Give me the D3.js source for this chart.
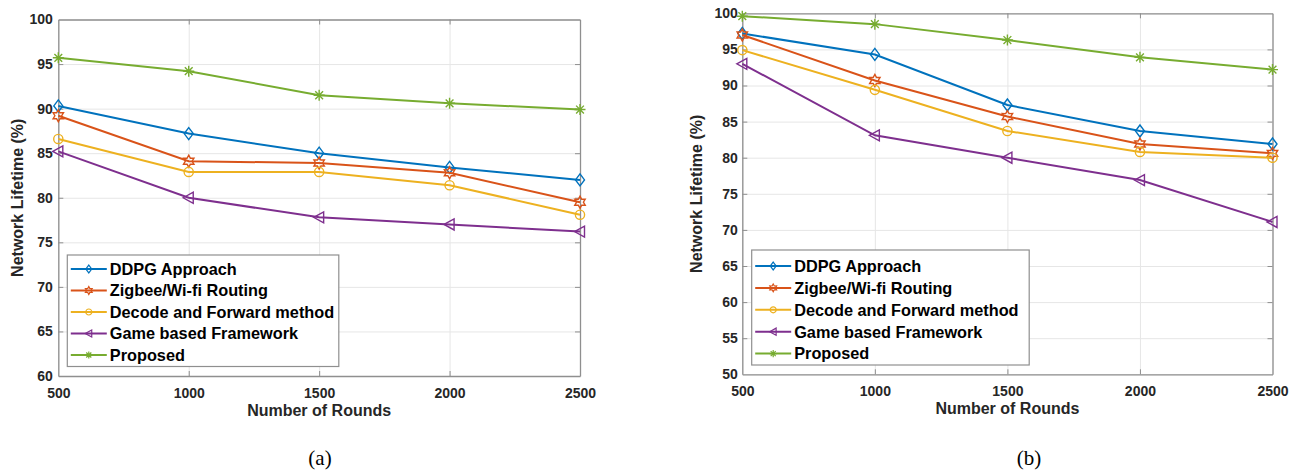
<!DOCTYPE html>
<html>
<head>
<meta charset="utf-8">
<script src="https://cdn.jsdelivr.net/npm/d3@7"></script>
<style>
  body { margin: 0; background: #fff; }
  svg { display: block; }
</style>
</head>
<body>
<div id="chart"></div>
<script>
const rounds = [500, 1000, 1500, 2000, 2500];
const seriesNames = ["DDPG Approach", "Zigbee/Wi-fi Routing", "Decode and Forward method", "Game based Framework", "Proposed"];
const seriesColors = ["#0072BD", "#D95319", "#EDB120", "#7E2F8E", "#77AC30"];
const seriesMarkers = ["diamond", "hexagram", "circle", "triangleLeft", "asterisk"];

// panel (a)
const ddpgA = [90.3, 87.2, 85.0, 83.4, 82.0];
const zigbeeA = [89.2, 84.1, 83.9, 82.8, 79.5];
const decodeA = [86.6, 82.9, 82.9, 81.4, 78.1];
const gameA = [85.2, 80.0, 77.8, 77.0, 76.2];
const proposedA = [95.7, 94.2, 91.5, 90.6, 89.9];
const yTicksA = [60, 65, 70, 75, 80, 85, 90, 95, 100];

// panel (b)
const ddpgB = [97.2, 94.3, 87.3, 83.7, 81.9];
const zigbeeB = [97.0, 90.7, 85.7, 81.9, 80.6];
const decodeB = [94.9, 89.4, 83.7, 80.8, 80.0];
const gameB = [93.0, 83.1, 80.0, 76.9, 71.1];
const proposedB = [99.6, 98.5, 96.3, 93.9, 92.2];
const yTicksB = [50, 55, 60, 65, 70, 75, 80, 85, 90, 95, 100];

const svg = d3.select("#chart").append("svg")
    .attr("width", 1289)
    .attr("height", 471);

const axisColor = "#8f8f8f";
const textColor = "#262626";

// marker shapes, roughly the matlab ones
function markerPath(type, s) {
    if (type === "diamond") {
        return `M0,${-6 * s}L${4.5 * s},0L0,${6 * s}L${-4.5 * s},0Z`;
    }
    if (type === "circle") {
        const r = 4.6 * s;
        return `M${r},0A${r},${r} 0 1,1 ${-r},0A${r},${r} 0 1,1 ${r},0Z`;
    }
    if (type === "triangleLeft") {
        return `M${-5.5 * s},0L${4.5 * s},${-5.5 * s}L${4.5 * s},${5.5 * s}Z`;
    }
    if (type === "hexagram") {
        let p = "";
        for (let i = 0; i < 12; i++) {
            const r = (i % 2 === 0 ? 6 : 3.4) * s;
            const a = -Math.PI / 2 + i * Math.PI / 6;
            p += (i === 0 ? "M" : "L") + (r * Math.cos(a)).toFixed(2) + "," + (r * Math.sin(a)).toFixed(2);
        }
        return p + "Z";
    }
    // asterisk: 8 arms
    let p = "";
    const r = 5.5 * s;
    for (let i = 0; i < 4; i++) {
        const a = i * Math.PI / 4;
        p += `M${(r * Math.cos(a)).toFixed(2)},${(r * Math.sin(a)).toFixed(2)}L${(-r * Math.cos(a)).toFixed(2)},${(-r * Math.sin(a)).toFixed(2)}`;
    }
    return p;
}

function drawPanel(cfg) {
    const g = svg.append("g");
    const x = d3.scaleLinear().domain([500, 2500]).range([cfg.left, cfg.right]);
    const y = d3.scaleLinear().domain([cfg.yTicks[0], 100]).range([cfg.bottom, cfg.top]);
    const w = cfg.right - cfg.left;
    const h = cfg.bottom - cfg.top;

    //grid
    g.append("g").attr("transform", `translate(0,${cfg.bottom})`)
        .call(d3.axisBottom(x).tickValues(rounds).tickSize(-h).tickFormat(""))
        .call(a => a.select(".domain").remove())
        .selectAll("line").attr("stroke", "#e6e6e6");
    g.append("g").attr("transform", `translate(${cfg.left},0)`)
        .call(d3.axisLeft(y).tickValues(cfg.yTicks).tickSize(-w).tickFormat(""))
        .call(a => a.select(".domain").remove())
        .selectAll("line").attr("stroke", "#e6e6e6");

    //axes with inward ticks
    const xb = g.append("g").attr("transform", `translate(0,${cfg.bottom})`)
        .call(d3.axisBottom(x).tickValues(rounds).tickSizeInner(-5).tickSizeOuter(0).tickPadding(12).tickFormat(d3.format("d")));
    const xt = g.append("g").attr("transform", `translate(0,${cfg.top})`)
        .call(d3.axisTop(x).tickValues(rounds).tickSizeInner(-5).tickSizeOuter(0).tickFormat(""));
    const yl = g.append("g").attr("transform", `translate(${cfg.left},0)`)
        .call(d3.axisLeft(y).tickValues(cfg.yTicks).tickSizeInner(-5).tickSizeOuter(0).tickPadding(cfg.yPad));
    const yr = g.append("g").attr("transform", `translate(${cfg.right},0)`)
        .call(d3.axisRight(y).tickValues(cfg.yTicks).tickSizeInner(-5).tickSizeOuter(0).tickFormat(""));

    [xb, xt, yl, yr].forEach(a => {
        a.select(".domain").attr("stroke", axisColor).attr("stroke-width", 1.3);
        a.selectAll(".tick line").attr("stroke", axisColor);
        a.selectAll(".tick text")
            .attr("fill", textColor)
            .style("font-family", "Liberation Sans, Arial, sans-serif")
            .style("font-weight", "bold")
            .style("font-size", "14px");
    });
    // skip end ticks that sit on the box
    [xb, xt].forEach(a => a.selectAll(".tick line").filter(d => d === 500 || d === 2500).remove());
    [yl, yr].forEach(a => a.selectAll(".tick line").filter(d => d === cfg.yTicks[0] || d === 100).remove());

    //lines and markers
    const line = d3.line().x((d, i) => x(rounds[i])).y(d => y(d));
    cfg.series.forEach((vals, k) => {
        g.append("path")
            .datum(vals)
            .attr("d", line)
            .attr("fill", "none")
            .attr("stroke", seriesColors[k])
            .attr("stroke-width", 2);
        g.append("g").selectAll("path")
            .data(vals)
            .join("path")
            .attr("transform", (d, i) => `translate(${x(rounds[i])},${y(d)})`)
            .attr("d", markerPath(seriesMarkers[k], 1))
            .attr("fill", "none")
            .attr("stroke", seriesColors[k])
            .attr("stroke-width", 1.4);
    });

    //axis labels
    g.append("text")
        .attr("x", (cfg.left + cfg.right) / 2)
        .attr("y", cfg.bottom + 40)
        .attr("text-anchor", "middle")
        .attr("fill", textColor)
        .style("font-family", "Liberation Sans, Arial, sans-serif")
        .style("font-weight", "bold")
        .style("font-size", "16px")
        .text("Number of Rounds");
    g.append("text")
        .attr("transform", `translate(${cfg.yLabelX},${(cfg.top + cfg.bottom) / 2}) rotate(-90)`)
        .attr("text-anchor", "middle")
        .attr("fill", textColor)
        .style("font-family", "Liberation Sans, Arial, sans-serif")
        .style("font-weight", "bold")
        .style("font-size", "16px")
        .text("Network Lifetime (%)");

    //caption
    g.append("text")
        .attr("x", cfg.captionX)
        .attr("y", 465)
        .attr("text-anchor", "middle")
        .attr("fill", "#000")
        .style("font-family", "Liberation Serif, Times New Roman, serif")
        .style("font-size", "21px")
        .text(cfg.caption);

    //legend
    const lg = g.append("g").attr("transform", `translate(${cfg.legend.x},${cfg.legend.y})`);
    lg.append("rect")
        .attr("width", cfg.legend.w)
        .attr("height", cfg.legend.h)
        .attr("fill", "#fff")
        .attr("stroke", axisColor)
        .attr("stroke-width", 1.2);
    seriesNames.forEach((name, k) => {
        const row = lg.append("g").attr("transform", `translate(0,${cfg.legend.first + k * cfg.legend.step})`);
        row.append("line")
            .attr("x1", 3.5).attr("x2", 39.5)
            .attr("stroke", seriesColors[k])
            .attr("stroke-width", 2);
        row.append("path")
            .attr("transform", "translate(21.5,0)")
            .attr("d", markerPath(seriesMarkers[k], 0.65))
            .attr("fill", "none")
            .attr("stroke", seriesColors[k])
            .attr("stroke-width", 1.2);
        row.append("text")
            .attr("x", 42.5)
            .attr("dy", "0.36em")
            .attr("fill", "#000")
            .style("font-family", "Liberation Sans, Arial, sans-serif")
            .style("font-weight", "bold")
            .style("font-size", "16.3px")
            .text(name);
    });
}

drawPanel({
    left: 58.3, right: 580, top: 19.5, bottom: 376,
    yTicks: yTicksA, yPad: 5.5, yLabelX: 23,
    series: [ddpgA, zigbeeA, decodeA, gameA, proposedA],
    caption: "(a)", captionX: 320,
    legend: { x: 67.3, y: 255, w: 271.5, h: 111.5, first: 14, step: 21.5 }
});

drawPanel({
    left: 742.3, right: 1272.5, top: 13.3, bottom: 374.3,
    yTicks: yTicksB, yPad: 4.5, yLabelX: 702,
    series: [ddpgB, zigbeeB, decodeB, gameB, proposedB],
    caption: "(b)", captionX: 1029,
    legend: { x: 751.7, y: 250, w: 277.5, h: 115, first: 16, step: 21.9 }
});
</script>
</body>
</html>
